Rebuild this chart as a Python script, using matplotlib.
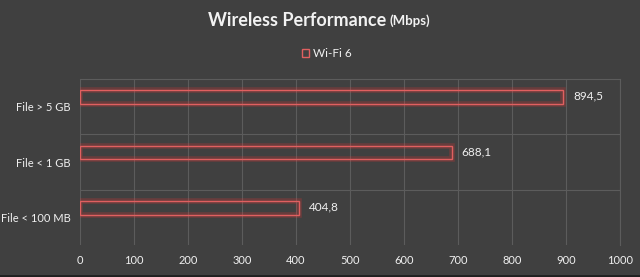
import matplotlib
matplotlib.use("Agg")
import matplotlib.pyplot as plt
import matplotlib.patheffects as pe
from matplotlib.patches import Rectangle

plt.rcParams["font.family"] = ["Lato", "DejaVu Sans"]

categories = ["File < 100 MB", "File < 1 GB", "File > 5 GB"]
values = [404.8, 688.1, 894.5]
value_labels = ["404,8", "688,1", "894,5"]
series_name = "Wi-Fi 6"
xticks = [0, 100, 200, 300, 400, 500, 600, 700, 800, 900, 1000]

bg = "#404040"
grid_c = "#5c5c5c"
fig = plt.figure(figsize=(6.4, 2.77), dpi=100, facecolor=bg)
ax = fig.add_axes([80/640, 1-245/277, 540/640, 166/277])
ax.set_facecolor(bg)

ypos = list(range(len(categories)))
bar_offset = 0.17
barpos = [p + bar_offset for p in ypos]
glow = [pe.Stroke(linewidth=4, foreground="#ff3030", alpha=0.22), pe.Normal()]
bars = ax.barh(barpos, values, height=0.245, facecolor="none",
               edgecolor="#e06060", linewidth=1.0)
for b in bars:
    b.set_path_effects(glow)
for y, v, lab in zip(barpos, values, value_labels):
    ax.text(v + 19, y + 0.02, lab, color="#f0f0f0", fontsize=8.5, va="center", ha="left")

ax.set_xlim(0, 1000)
ax.set_ylim(-0.5, len(categories) - 0.5)
ax.set_xticks(xticks)
ax.set_xticklabels([str(t) for t in xticks])
ax.set_yticks(ypos)
ax.set_yticklabels(categories)
ax.set_yticks([0.5, 1.5], minor=True)
ax.grid(axis="x", color=grid_c, linewidth=0.8)
ax.grid(axis="y", which="minor", color=grid_c, linewidth=0.8)
ax.set_axisbelow(True)
ax.tick_params(axis="both", which="both", length=0, colors="#f0f0f0", labelsize=8)
ax.tick_params(axis="x", pad=7.5)
ax.tick_params(axis="y", pad=7)
for s in ["left", "bottom"]:
    ax.spines[s].set_visible(False)
for s in ["top", "right"]:
    ax.spines[s].set_color(grid_c)
    ax.spines[s].set_linewidth(0.8)

fig.text(386/640, 1-20/277, "Wireless Performance", color="#f2f2f2", fontsize=13,
         fontweight="bold", ha="right", va="center")
fig.text(389/640, 1-21/277, "(Mbps)", color="#f2f2f2", fontsize=9.5,
         fontweight="bold", ha="left", va="center")

# legend
fig.patches.append(Rectangle((302/640, 1-57/277), 7/640, 8/277, transform=fig.transFigure,
                             facecolor="none", edgecolor="#e06060", linewidth=1))
fig.text(313/640, 1-53/277, series_name, color="#f0f0f0", fontsize=8.5, ha="left", va="center")

fig.add_artist(plt.Line2D([0, 1], [1/277, 1/277], color="#202020", linewidth=2, transform=fig.transFigure))

fig.savefig("out.png", dpi=100, facecolor=bg)
